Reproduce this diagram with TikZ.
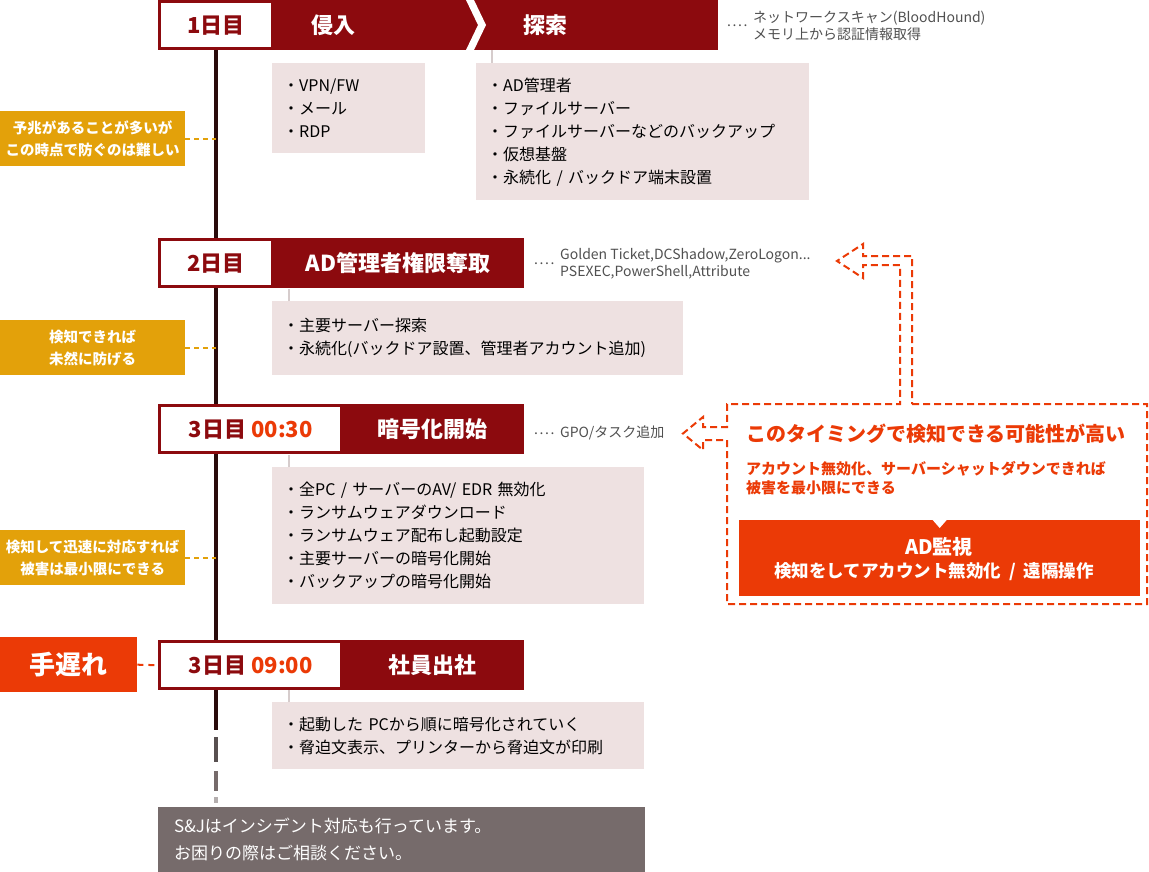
\documentclass[tikz,border=0pt]{standalone}
\usepackage{fontspec}
\setmainfont{Noto Sans CJK JP}
\usetikzlibrary{positioning,calc}
\definecolor{wine}{HTML}{8C0A0E}
\definecolor{blush}{HTML}{EEE1E1}
\definecolor{amber}{HTML}{E3A10A}
\definecolor{flame}{HTML}{EB3A06}
\definecolor{slate}{HTML}{766B6B}
\definecolor{trunk}{HTML}{2A0B0B}
\definecolor{note}{HTML}{505050}
\definecolor{stem}{HTML}{D6CCCC}
\newcommand{\fsz}[2]{\fontsize{#1}{#2}\selectfont}
\newcommand{\leaderdots}{.\kern1.6pt.\kern1.6pt.\kern1.6pt.}

\begin{document}
\begin{tikzpicture}[x=1pt,y=-1pt,
  every node/.style={inner sep=0pt},
  bar/.style={fill=wine,anchor=north west,minimum height=50pt},
  daybox/.style={fill=white,anchor=north west,minimum height=44pt,text=wine,font=\fsz{22}{26}\bfseries},
  phase/.style={text=white,font=\fsz{22}{26}\bfseries},
  itembox/.style={fill=blush,anchor=north west,inner xsep=11pt,align=left,font=\fsz{16}{23}},
  hint/.style={fill=amber,text=white,align=center,anchor=north west,minimum width=185pt,minimum height=55pt,font=\fsz{14.5}{22}\bfseries},
  hintlink/.style={amber,line width=2pt,dash pattern=on 5pt off 4pt},
  remark/.style={anchor=west,text=note,align=left,font=\fsz{14}{17}},
  leader/.style={anchor=west,text=note,font=\fsz{14}{17}},
  stemline/.style={stem,line width=1.5pt},
  watch/.style={flame,line width=2pt,dash pattern=on 7pt off 4pt},
]
\useasboundingbox (0,0) rectangle (1149,872);

% time line
\coordinate (tl-top) at (216,47);
\coordinate (tl-end) at (216,730);
\draw[trunk,line width=4pt] (tl-top) -- (tl-end);
\foreach \ya/\yb/\col in {737/762/slate!75!black,771/791/slate,797/803/slate!55!white}
  \draw[\col,line width=4pt] ($(tl-end)+(0,\ya-730)$) -- ($(tl-end)+(0,\yb-730)$);

% day 1
\node[bar,minimum width=560pt] (bar1) at (158,0) {};
\fill[white] (466,0) -- (474,0) -- (486,25) -- (474,50) -- (466,50) -- (478,25) -- cycle;
\node[daybox,minimum width=110pt] (day1) at (161,3) {1日目};
\node[phase] (ph1a) at (333,25) {侵入};
\node[phase] (ph1b) at (545,25) {探索};
\node[leader] (dot1) at (727,26) {\leaderdots};
\node[remark] (rm1) at (753,26) {ネットワークスキャン(BloodHound)\\メモリ上から認証情報取得};
\node[itembox,text width=131pt,minimum height=90pt] (box1a) at (272,63) {・VPN/FW\\・メール\\・RDP};
\node[itembox,text width=311pt,minimum height=137pt] (box1b) at (476,63)
  {・AD管理者\\・ファイルサーバー\\・ファイルサーバーなどのバックアップ\\・仮想基盤\\・永続化 / バックドア端末設置};
\draw[stemline] (box1b.north west) ++(16,0) -- ++(0,-13);

% day 2 to day 3
\foreach \row/\top/\dw/\dtxt/\ptxt in {
    2/238/110/{2日目}/{AD管理者権限奪取},
    3/404/179/{3日目 \textcolor{flame}{00:30}}/{暗号化開始},
    4/640/179/{3日目 \textcolor{flame}{09:00}}/{社員出社}} {
  \node[bar,minimum width=366pt] (bar\row) at (158,\top) {};
  \node[daybox,minimum width=\dw pt] (day\row) at (161,\top+3) {\dtxt};
  \node[phase] (ph\row) at ($(day\row.east)!0.5!(bar\row.east)$) {\ptxt};
}
\node[leader] (dot2) at (534,264) {\leaderdots};
\node[remark] (rm2) at (560,264) {Golden Ticket,DCShadow,ZeroLogon...\\PSEXEC,PowerShell,Attribute};
\node[leader] (dot3) at (534,434) {\leaderdots};
\node[remark] (rm3) at (560,433) {GPO/タスク追加};

\node[itembox,text width=389pt,minimum height=74pt] (box2) at (272,301)
  {・主要サーバー探索\\・永続化(バックドア設置、管理者アカウント追加)};
\node[itembox,text width=350pt,minimum height=137pt] (box3) at (272,467)
  {・全PC / サーバーのAV/ EDR 無効化\\・ランサムウェアダウンロード\\・ランサムウェア配布し起動設定\\・主要サーバーの暗号化開始\\・バックアップの暗号化開始};
\node[itembox,text width=350pt,minimum height=67pt] (box4) at (272,702)
  {・起動した PCから順に暗号化されていく\\・脅迫文表示、プリンターから脅迫文が印刷};
\foreach \row in {2,3,4}
  \draw[stemline] (box\row.north west) ++(17,0) -- ++(0,-12);

% hints on the left
\node[hint] (hint1) at (0,111) {予兆があることが多いが\\この時点で防ぐのは難しい};
\node[hint] (hint2) at (0,320) {検知できれば\\未然に防げる};
\node[hint] (hint3) at (0,530) {検知して迅速に対応すれば\\被害は最小限にできる};
\foreach \h in {1,2,3}
  \draw[hintlink] (hint\h.east) -- (hint\h.east -| tl-top);
\node[fill=flame,text=white,anchor=north west,minimum width=137pt,minimum height=55pt,font=\fsz{26}{30}\bfseries] (late) at (0,637) {手遅れ};
\draw[flame,line width=2pt,dash pattern=on 6pt off 5pt] (late.east) -- (bar4.west);

% AD watch panel
\draw[watch] (912,404) -- (1147,404) -- (1147,604) -- (727,604) -- (727,440)
  -- (703,440) -- (703,450) -- (683,433.5) -- (703,417) -- (703,427) -- (727,427)
  -- (727,404) -- (900,404) -- (900,265) -- (863,265) -- (863,278) -- (837,261)
  -- (863,244) -- (863,256) -- (912,256) -- cycle;
\node[anchor=west,text=flame,font=\fsz{20}{22}\bfseries] (catch) at (746,434) {このタイミングで検知できる可能性が高い};
\node[anchor=west,text=flame,align=left,font=\fsz{15}{19}\bfseries] (advice) at (746,478.5)
  {アカウント無効化、サーバーシャットダウンできれば\\被害を最小限にできる};
\node[fill=flame,anchor=north west,minimum width=401pt,minimum height=76pt] (adwatch) at (739,520) {};
\fill[white] (adwatch.north) ++(-7,0) -- ++(14,0) -- ++(-7,8) -- cycle;
\node[text=white,font=\fsz{20}{22}\bfseries] (adw1) at (939,547) {AD監視};
\node[text=white,font=\fsz{17.5}{20}\bfseries] (adw2) at (934,572) {検知をしてアカウント無効化\ \ /\ \ 遠隔操作};

% footer
\node[fill=slate,anchor=north west,text=white,align=left,text width=455pt,inner xsep=16pt,minimum height=65pt,font=\fsz{17}{27}] (footer) at (158,807)
  {S\&Jはインシデント対応も行っています。\\お困りの際はご相談ください。};
\end{tikzpicture}
\end{document}
